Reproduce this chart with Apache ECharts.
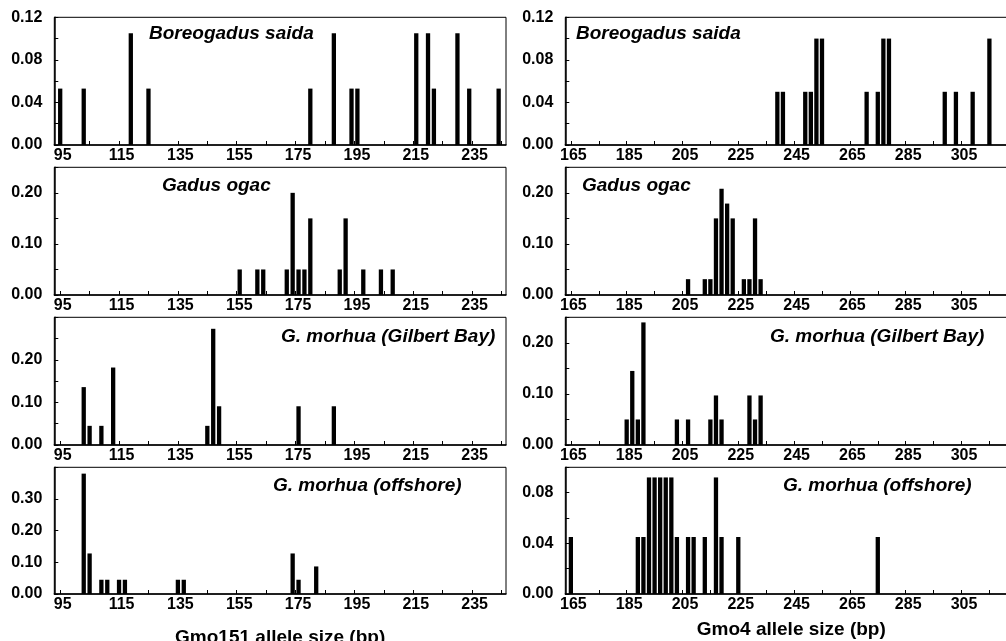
<!DOCTYPE html>
<html>
<head>
<meta charset="utf-8">
<script src="https://cdn.jsdelivr.net/npm/echarts@6/dist/echarts.min.js"></script>
<style>
  html, body { margin: 0; padding: 0; background: #fff; }
  #chart { width: 1006px; height: 641px; }
</style>
</head>
<body>
<div id="chart"></div>
<script>
// allele sizes (bp) and frequencies
const boreoGmo151Size = [95, 103, 119, 125, 180, 188, 194, 196, 216, 220, 222, 230, 234, 244];
const boreoGmo151Freq = [0.053, 0.053, 0.105, 0.053, 0.053, 0.105, 0.053, 0.053, 0.105, 0.105, 0.053, 0.105, 0.053, 0.053];
const ogacGmo151Size = [156, 162, 164, 172, 174, 176, 178, 180, 190, 192, 198, 204, 208];
const ogacGmo151Freq = [0.05, 0.05, 0.05, 0.05, 0.20, 0.05, 0.05, 0.15, 0.05, 0.15, 0.05, 0.05, 0.05];
const gilbertGmo151Size = [103, 105, 109, 113, 145, 147, 149, 176, 188];
const gilbertGmo151Freq = [0.136, 0.045, 0.045, 0.182, 0.045, 0.273, 0.091, 0.091, 0.091];
const offshoreGmo151Size = [103, 105, 109, 111, 115, 117, 135, 137, 174, 176, 182];
const offshoreGmo151Freq = [0.38, 0.128, 0.045, 0.045, 0.045, 0.045, 0.045, 0.045, 0.128, 0.045, 0.087];

const boreoGmo4Size = [239, 241, 249, 251, 253, 255, 271, 275, 277, 279, 299, 303, 309, 315];
const boreoGmo4Freq = [0.05, 0.05, 0.05, 0.05, 0.10, 0.10, 0.05, 0.05, 0.10, 0.10, 0.05, 0.05, 0.05, 0.10];
const ogacGmo4Size = [207, 213, 215, 217, 219, 221, 223, 227, 229, 231, 233];
const ogacGmo4Freq = [0.031, 0.031, 0.031, 0.15, 0.208, 0.179, 0.15, 0.031, 0.031, 0.15, 0.031];
const gilbertGmo4Size = [185, 187, 189, 191, 203, 207, 215, 217, 219, 229, 231, 233];
const gilbertGmo4Freq = [0.05, 0.145, 0.05, 0.24, 0.05, 0.05, 0.05, 0.097, 0.05, 0.097, 0.05, 0.097];
const offshoreGmo4Size = [165, 189, 191, 193, 195, 197, 199, 201, 203, 207, 209, 213, 217, 219, 225, 275];
const offshoreGmo4Freq = [0.045, 0.045, 0.045, 0.092, 0.092, 0.092, 0.092, 0.092, 0.045, 0.045, 0.045, 0.045, 0.092, 0.045, 0.045, 0.045];

// x tick labels and tick marks
const gmo151Labels = [95, 115, 135, 155, 175, 195, 215, 235];
const gmo151Ticks = [95, 105, 115, 125, 135, 145, 155, 165, 175, 185, 195, 205, 215, 225, 235, 245];
const gmo4Labels = [165, 185, 205, 225, 245, 265, 285, 305];
const gmo4Ticks = [165, 175, 185, 195, 205, 215, 225, 235, 245, 255, 265, 275, 285, 295, 305, 315, 325];

const speciesNames = ['Boreogadus saida', 'Gadus ogac', 'G. morhua (Gilbert Bay)', 'G. morhua (offshore)'];

const FONT = "'Liberation Sans', Arial, sans-serif";
const rowTop = [17.3, 167.3, 317.3, 467.3];
const rowHeight = [127.7, 127.7, 127.7, 126.7];

// one entry per panel: column, row, data, y range
const panels = [
  { col: 0, row: 0, size: boreoGmo151Size, freq: boreoGmo151Freq, yMax: 0.12, yStep: 0.02, yMajor: 0.04, showTop: true, tLeft: 149, tTop: 24 },
  { col: 0, row: 1, size: ogacGmo151Size, freq: ogacGmo151Freq, yMax: 0.25, yStep: 0.05, yMajor: 0.10, tLeft: 162, tTop: 176 },
  { col: 0, row: 2, size: gilbertGmo151Size, freq: gilbertGmo151Freq, yMax: 0.30, yStep: 0.05, yMajor: 0.10, tLeft: 281, tTop: 327 },
  { col: 0, row: 3, size: offshoreGmo151Size, freq: offshoreGmo151Freq, yMax: 0.40, yStep: 0.10, yMajor: 0.10, tLeft: 273, tTop: 476 },
  { col: 1, row: 0, size: boreoGmo4Size, freq: boreoGmo4Freq, yMax: 0.12, yStep: 0.02, yMajor: 0.04, showTop: true, tLeft: 576, tTop: 24 },
  { col: 1, row: 1, size: ogacGmo4Size, freq: ogacGmo4Freq, yMax: 0.25, yStep: 0.05, yMajor: 0.10, tLeft: 582, tTop: 176 },
  { col: 1, row: 2, size: gilbertGmo4Size, freq: gilbertGmo4Freq, yMax: 0.25, yStep: 0.05, yMajor: 0.10, tLeft: 770, tTop: 327 },
  { col: 1, row: 3, size: offshoreGmo4Size, freq: offshoreGmo4Freq, yMax: 0.10, yStep: 0.02, yMajor: 0.04, tLeft: 783, tTop: 476 }
];

const grids = [], xAxes = [], yAxes = [], series = [], titles = [];

panels.forEach(function (p, i) {
  const left = p.col === 0 ? 54.3 : 565.3;
  grids.push({
    left: left,
    top: rowTop[p.row],
    width: p.col === 0 ? 451.7 : 452,
    height: rowHeight[p.row],
    show: true,
    borderColor: '#000',
    borderWidth: 1,
    containLabel: false,
    outerBoundsMode: 'none'
  });

  const isLast = p.row === 3;
  xAxes.push({
    type: 'value',
    gridIndex: i,
    min: p.col === 0 ? 93 : 163,
    max: p.col === 0 ? 246.5 : 325,
    splitLine: { show: false },
    axisLine: { lineStyle: { color: '#000', width: 1.5 } },
    axisTick: {
      inside: true,
      length: 4,
      lineStyle: { color: '#000' },
      customValues: p.col === 0 ? gmo151Ticks : gmo4Ticks
    },
    axisLabel: {
      customValues: p.col === 0 ? gmo151Labels : gmo4Labels,
      color: '#000',
      fontSize: 16,
      fontWeight: 'bold',
      fontFamily: FONT,
      margin: 3,
      padding: [0, 0, 0, 5]
    },
    name: isLast ? (p.col === 0 ? 'Gmo151 allele size (bp)' : 'Gmo4 allele size (bp)') : '',
    nameLocation: 'middle',
    nameGap: p.col === 0 ? 34 : 26,
    nameTextStyle: { color: '#000', fontSize: 19, fontWeight: 'bold', fontFamily: FONT }
  });

  yAxes.push({
    type: 'value',
    gridIndex: i,
    min: 0,
    max: p.yMax,
    interval: p.yStep,
    splitLine: { show: false },
    axisLine: { show: true, lineStyle: { color: '#000', width: 1.5 } },
    axisTick: { show: true, inside: true, length: 4, lineStyle: { color: '#000' } },
    axisLabel: {
      color: '#000',
      fontSize: 16,
      fontWeight: 'bold',
      fontFamily: FONT,
      margin: 12,
      showMaxLabel: true,
      formatter: function (v) {
        const r = v / p.yMajor;
        if (Math.abs(r - Math.round(r)) > 1e-6) return '';
        if (!p.showTop && Math.abs(v - p.yMax) < 1e-6) return '';
        return v.toFixed(2);
      }
    }
  });

  series.push({
    type: 'bar',
    xAxisIndex: i,
    yAxisIndex: i,
    barWidth: 4.3,
    itemStyle: { color: '#000' },
    data: p.size.map(function (s, k) { return [s, p.freq[k]]; }),
    animation: false
  });

  titles.push({
    text: speciesNames[p.row],
    left: p.tLeft,
    top: p.tTop,
    padding: 0,
    textStyle: {
      color: '#000',
      fontSize: 19,
      fontWeight: 'bold',
      fontStyle: 'italic',
      fontFamily: FONT,
      lineHeight: 19
    }
  });
});

const chart = echarts.init(document.getElementById('chart'), null, { renderer: 'canvas' });
chart.setOption({
  animation: false,
  backgroundColor: '#fff',
  title: titles,
  grid: grids,
  xAxis: xAxes,
  yAxis: yAxes,
  series: series
});
</script>
</body>
</html>
